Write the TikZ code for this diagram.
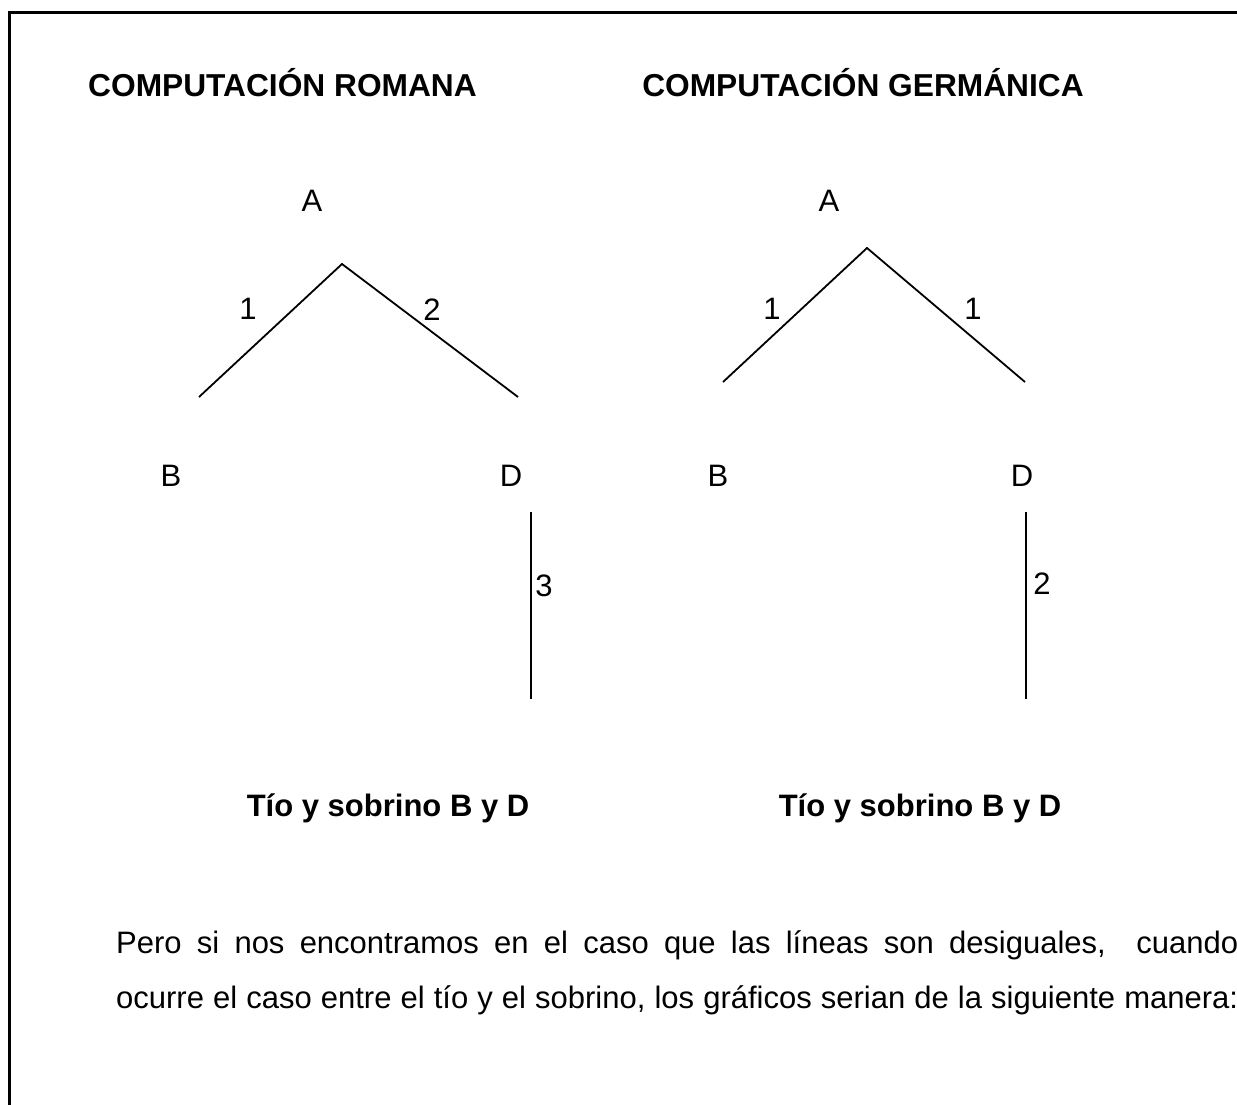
\documentclass[tikz,border=0pt]{standalone}
\usepackage{fontspec}
\setmainfont{Liberation Sans}
\begin{document}
\begin{tikzpicture}[x=1pt,y=-1pt,
  every node/.style={inner sep=0pt, font=\fontsize{31}{37}\selectfont},
  lbl/.style={anchor=base},
  ttl/.style={anchor=base, font=\fontsize{31.7}{38}\selectfont\bfseries},
  sub/.style={anchor=base, font=\fontsize{31}{37}\selectfont\bfseries},
  para/.style={anchor=base west},
  edge/.style={line width=1.8pt},
  frame/.style={line width=3pt}]
\useasboundingbox (0,0) rectangle (1237,1105);
% frame
\coordinate (fbl) at (9.5,1110);
\coordinate (ftl) at (9.5,12.5);
\coordinate (ftr) at (1245,12.5);
\draw[frame] (fbl) -- (ftl) -- (ftr);
% titles
\node[ttl] (t1) at (282.5,97) {COMPUTACIÓN ROMANA};
\node[ttl] (t2) at (863,97) {COMPUTACIÓN GERMÁNICA};
% left tree
\node[lbl] (aL) at (312,211) {A};
\node[lbl] (bL) at (171,486) {B};
\node[lbl] (dL) at (511,486) {D};
\coordinate (apL) at (342,264);
\coordinate (lbL) at (199,397);
\coordinate (lrL) at (518,397);
\coordinate (vtL) at (531,512);
\coordinate (vbL) at (531,699);
\draw[edge] (lbL) -- (apL) -- (lrL);
\draw[edge] (vtL) -- (vbL);
\node[lbl] (n1L) at (248,319) {1};
\node[lbl] (n2L) at (432,320) {2};
\node[lbl] (n3L) at (544,596) {3};
% right tree
\node[lbl] (aR) at (829,211) {A};
\node[lbl] (bR) at (718,486) {B};
\node[lbl] (dR) at (1022,486) {D};
\coordinate (apR) at (867,248);
\coordinate (lbR) at (723,382);
\coordinate (lrR) at (1025,382);
\coordinate (vtR) at (1026,512);
\coordinate (vbR) at (1026,699);
\draw[edge] (lbR) -- (apR) -- (lrR);
\draw[edge] (vtR) -- (vbR);
\node[lbl] (n1R) at (772,319) {1};
\node[lbl] (n2R) at (973,319) {1};
\node[lbl] (n3R) at (1042,594) {2};
% subtitles
\node[sub] (s1) at (388,816) {Tío y sobrino B y D};
\node[sub] (s2) at (920,816) {Tío y sobrino B y D};
% paragraph
\node[para] (p1) at (116,953) {\makebox[1122pt][s]{Pero si nos encontramos en el caso que las líneas son desiguales,\ \ cuando}};
\node[para] (p2) at (116,1008) {\makebox[1122pt][s]{ocurre el caso entre el tío y el sobrino, los gráficos serian de la siguiente manera:}};
\end{tikzpicture}
\end{document}
